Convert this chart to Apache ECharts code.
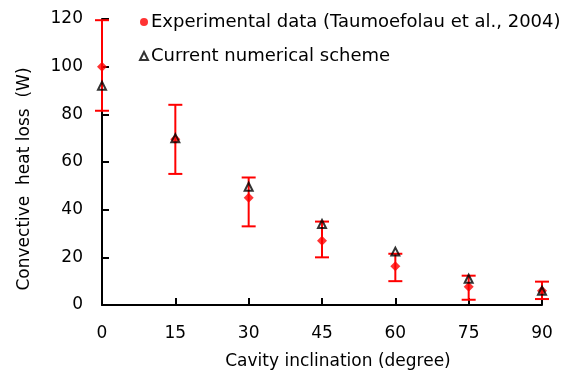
<!DOCTYPE html>
<html><head><meta charset="utf-8">
<script src="https://cdn.jsdelivr.net/npm/echarts@6/dist/echarts.min.js"></script>
<style>html,body{margin:0;padding:0;background:#fff}#c{width:565px;height:379px}</style>
</head><body><div id="c"></div>
<script>
const angles = [0, 15, 30, 45, 60, 75, 90];
const experimental = [100, 69.5, 45, 27, 16.3, 7.7, 6];
const errLow = [81.5, 55, 33, 20, 10, 2.2, 2.5];
const errHigh = [119.5, 84, 53.5, 35, 21.5, 12.3, 9.8];
const numerical = [92, 70, 49.6, 34, 22.4, 11, 6];
const yTicks = [0, 20, 40, 60, 80, 100, 120];
const xTicks = [0, 15, 30, 45, 60, 75, 90];

const FONT = '"DejaVu Sans", sans-serif';
const chart = echarts.init(document.getElementById('c'));
const errData = angles.map((a, i) => [a, errLow[i], errHigh[i]]);
chart.setOption({
  animation: false,
  textStyle: { fontFamily: FONT },
  grid: { left: 102, right: 23, top: 19, bottom: 74 },
  legend: {
    orient: 'vertical', left: 134, top: 8, itemGap: 16,
    itemWidth: 8, itemHeight: 8, itemGap: 16,
    textStyle: { fontSize: 18, color: '#000', fontFamily: FONT, padding: [0, 0, 0, -2] },
    data: [
      { name: 'Experimental data (Taumoefolau et al., 2004)', icon: 'circle', itemStyle: { color: '#ff0000' } },
      { name: 'Current numerical scheme', icon: 'triangle', itemStyle: { color: '#fff', borderColor: '#000', borderWidth: 2 } }
    ]
  },
  xAxis: {
    type: 'value', min: 0, max: 90, interval: 15,
    name: 'Cavity inclination (degree)', nameLocation: 'middle', nameGap: 48,
    nameTextStyle: { fontSize: 17, color: '#000', fontFamily: FONT, padding: [0, 0, 0, 32] },
    axisLine: { lineStyle: { color: '#000', width: 2 } },
    axisTick: { inside: true, length: 7, lineStyle: { color: '#000', width: 2 } },
    axisLabel: { fontSize: 17, color: '#000', margin: 20, fontFamily: FONT,
      formatter: v => xTicks.includes(v) ? String(v) : '' },
    splitLine: { show: false }
  },
  yAxis: {
    type: 'value', min: 0, max: 120, interval: 20,
    name: 'Convective  heat loss  (W)', nameLocation: 'middle', nameGap: 69,
    nameTextStyle: { fontSize: 17, color: '#000', fontFamily: FONT, padding: [0, 34, 0, 0] },
    axisLine: { show: true, lineStyle: { color: '#000', width: 2 } },
    axisTick: { show: true, inside: true, length: 7, lineStyle: { color: '#000', width: 2 } },
    axisLabel: { fontSize: 17, color: '#000', margin: 19, fontFamily: FONT,
      formatter: v => yTicks.includes(v) ? String(v) : '' },
    splitLine: { show: false }
  },
  series: [
    {
      type: 'custom', name: 'err', silent: true, z: 2,
      data: errData,
      renderItem: function (params, api) {
        const x = api.value(0);
        const lo = api.coord([x, api.value(1)]);
        const hi = api.coord([x, api.value(2)]);
        const hw = 7;
        const st = { stroke: '#ff0000', lineWidth: 2 };
        return { type: 'group', children: [
          { type: 'line', shape: { x1: lo[0], y1: lo[1], x2: hi[0], y2: hi[1] }, style: st },
          { type: 'line', shape: { x1: lo[0] - hw, y1: lo[1], x2: lo[0] + hw, y2: lo[1] }, style: st },
          { type: 'line', shape: { x1: hi[0] - hw, y1: hi[1], x2: hi[0] + hw, y2: hi[1] }, style: st }
        ]};
      }
    },
    {
      type: 'scatter', name: 'Experimental data (Taumoefolau et al., 2004)', z: 3,
      symbol: 'diamond', symbolSize: 10,
      itemStyle: { color: '#ff0000' },
      data: angles.map((a, i) => [a, experimental[i]])
    },
    {
      type: 'scatter', name: 'Current numerical scheme', z: 4,
      symbol: 'triangle', symbolSize: 8,
      itemStyle: { color: 'rgba(0,0,0,0)', borderColor: '#000', borderWidth: 2 },
      data: angles.map((a, i) => [a, numerical[i]])
    }
  ]
});
</script></body></html>
